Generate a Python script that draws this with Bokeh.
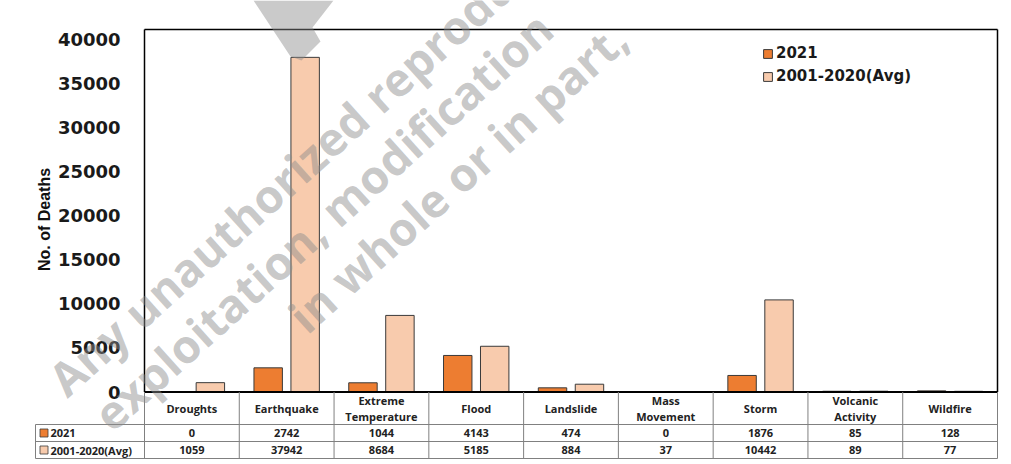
import math
from bokeh.plotting import figure
from bokeh.models import Range1d, Legend, LegendItem, Label, ColumnDataSource
from bokeh.transform import dodge
from bokeh.embed import file_html
from bokeh.resources import INLINE
from bokeh.core.properties import value

# ---------------- data ----------------
categories = ["Droughts", "Earthquake", "Extreme\nTemperature", "Flood", "Landslide",
              "Mass\nMovement", "Storm", "Volcanic\nActivity", "Wildfire"]
deaths_2021 = [0, 2742, 1044, 4143, 474, 0, 1876, 85, 128]
deaths_avg = [1059, 37942, 8684, 5185, 884, 37, 10442, 89, 77]
series_names = ["2021", "2001-2020(Avg)"]
y_ticks = [0, 5000, 10000, 15000, 20000, 25000, 30000, 35000, 40000]
y_label = "No. of Deaths"
watermark_lines = ["Any unauthorized reproduction,", "exploitation, modification", "in whole or in part,"]

# ---------------- layout / style ----------------
ORANGE = "#ED7D31"
PEACH = "#F8CBAD"
EDGE = "#3a3a3a"
GRID = "#808080"
TXT = "#1a1a1a"
W, H = 1011, 462
N = len(categories)
X0 = 144              # px where the first category column starts
X1 = 997              # px where the last category column ends
UNIT = (X1 - X0) / N  # px per category column
LABEL_COL = 109 / UNIT  # width of the table's row-label column (category units)
FRAME_TOP = 29        # px from top to the chart frame
BASELINE = 391.5      # px from top to the zero line
Y_MAX = 41100
dpp = Y_MAX / (BASELINE - FRAME_TOP)   # deaths per pixel

p = figure(width=W, height=H,
           x_range=Range1d(-X0 / UNIT, (W - X0) / UNIT),
           y_range=Range1d(-(H - BASELINE) * dpp, Y_MAX + FRAME_TOP * dpp),
           x_axis_type=None, y_axis_type=None,
           output_backend="svg", toolbar_location=None,
           min_border=0, min_border_left=0, min_border_right=0,
           min_border_top=0, min_border_bottom=0)
p.extra_y_ranges = {"px": Range1d(H, 0)}   # layout range: 0 at the top, in pixels
p.outline_line_color = None
p.xgrid.grid_line_color = None
p.ygrid.grid_line_color = None
p.background_fill_color = "white"
p.border_fill_color = "white"

# ---------------- bars ----------------
src = ColumnDataSource(dict(x=[i + 0.5 for i in range(N)], s1=deaths_2021, s2=deaths_avg))
r1 = p.vbar(x=dodge("x", -0.195), top="s1", width=0.3, source=src,
            fill_color=ORANGE, line_color=EDGE, line_width=1)
r2 = p.vbar(x=dodge("x", 0.195), top="s2", width=0.3, source=src,
            fill_color=PEACH, line_color=EDGE, line_width=1)

# chart frame (axis line, top, right, baseline)
p.segment(x0=[0, 0, N], x1=[0, N, N], y0=[0, Y_MAX, 0], y1=[Y_MAX, Y_MAX, Y_MAX],
          line_color="black", line_width=1.5)
p.segment(x0=[0], x1=[N], y0=[0], y1=[0], line_color="black", line_width=2)

# y tick labels and axis title
p.text(x=[0] * len(y_ticks), y=y_ticks, text=[str(t) for t in y_ticks], x_offset=-24,
       text_align="right", text_baseline="middle", text_font=value("DejaVu Sans"),
       text_font_size="18px", text_font_style="bold", text_color=TXT)
p.text(x=[(44 - X0) / UNIT], y=[(BASELINE - 219) * dpp], text=[y_label], angle=math.pi / 2,
       text_align="center", text_baseline="middle", text_font=value("Liberation Sans"),
       text_font_size="16px", text_font_style="bold", text_color="#111111")

legend = Legend(items=[LegendItem(label=series_names[0], renderers=[r1]),
                       LegendItem(label=series_names[1], renderers=[r2])],
                location=(762, H - 86), padding=0, margin=0, spacing=3,
                glyph_width=11, glyph_height=11, label_height=20, label_standoff=3,
                label_text_font="DejaVu Sans", label_text_font_size="15px",
                label_text_font_style="bold", label_text_color=TXT,
                border_line_color=None, background_fill_alpha=0)
p.add_layout(legend)

# ---------------- data table under the chart ----------------
HDR_BOTTOM = 424
ROW_H = 17
rows = [BASELINE, HDR_BOTTOM, HDR_BOTTOM + ROW_H, HDR_BOTTOM + 2 * ROW_H]  # px from top
hy = rows[1:]
p.segment(x0=[-LABEL_COL] * 3, x1=[N] * 3, y0=hy, y1=hy, y_range_name="px",
          line_color=GRID, line_width=1)
vx = list(range(N + 1))
p.segment(x0=vx, x1=vx, y0=[rows[0]] * len(vx), y1=[rows[3]] * len(vx), y_range_name="px",
          line_color=GRID, line_width=1)
p.segment(x0=[-LABEL_COL], x1=[-LABEL_COL], y0=[rows[1]], y1=[rows[3]], y_range_name="px",
          line_color=GRID, line_width=1)

tfont = value("Open Sans")
xc = [i + 0.5 for i in range(N)]
hdr_y = (rows[0] + rows[1]) / 2
row_y = [(rows[1] + rows[2]) / 2, (rows[2] + rows[3]) / 2]
p.text(x=xc, y=[hdr_y] * N, text=categories, y_range_name="px", text_font=tfont,
       text_font_size="11px", text_font_style="bold", text_align="center",
       text_baseline="middle", text_color="#222222", text_line_height=1.1)
for vals, ry in zip([deaths_2021, deaths_avg], row_y):
    p.text(x=xc, y=[ry] * N, text=[str(v) for v in vals], y_range_name="px", text_font=tfont,
           text_font_size="11px", text_font_style="bold", text_align="center",
           text_baseline="middle", text_color="#222222")

p.scatter(x=[-LABEL_COL + 8.5 / UNIT] * 2, y=row_y, y_range_name="px", marker="square", size=8,
          fill_color=[ORANGE, PEACH], line_color=EDGE, line_width=0.8)
p.text(x=[-LABEL_COL + 15 / UNIT] * 2, y=row_y, text=series_names, y_range_name="px",
       text_font=tfont, text_font_size="11px", text_font_style="bold", text_align="left",
       text_baseline="middle", text_color="#222222")

# ---------------- watermark ----------------
# fragment of the grey logo at the top edge (px from top-left)
logo_px = [(253, 0), (290, 56), (301, 60), (320, 41), (312, 27), (333, 0)]
p.patch(x=[(lx - X0) / UNIT for lx, _ in logo_px], y=[ly for _, ly in logo_px], y_range_name="px",
        fill_color="#8a8a8a", fill_alpha=0.45, line_color=None)

wm_starts = [(55, 385), (100, 420), (295, 322)]   # px from top-left
for txt, (cx, cy) in zip(watermark_lines, wm_starts):
    p.add_layout(Label(x=cx, y=H - cy, x_units="screen", y_units="screen",
                       text=txt, angle=42, angle_units="deg",
                       text_font="Open Sans", text_font_size="46px",
                       text_font_style="bold", text_color="#8c8c8c",
                       text_alpha=0.48, text_baseline="alphabetic", text_align="left"))

open("out.html", "w").write(file_html(p, INLINE))
